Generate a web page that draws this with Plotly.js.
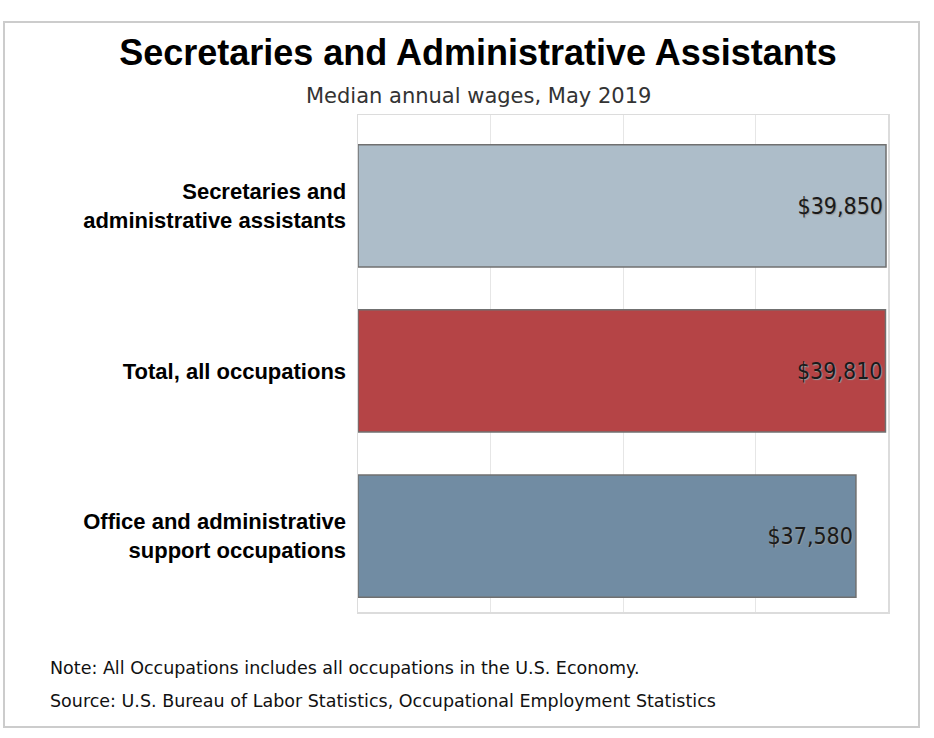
<!DOCTYPE html>
<html>
<head>
<meta charset="utf-8">
<script src="https://cdn.plot.ly/plotly-3.0.1.min.js"></script>
<style>html,body{margin:0;padding:0;background:#fff;}#chart{width:934px;height:738px;}</style>
</head>
<body>
<div id="chart"></div>
<script>
const categories = ["Office and administrative<br>support occupations", "Total, all occupations", "Secretaries and<br>administrative assistants"];
const wages = [37580, 39810, 39850];
const wageLabels = ["$37,580", "$39,810", "$39,850"];
const barColors = ["#718ca3", "#b54446", "#adbdc9"];
const titleText = "Secretaries and Administrative Assistants";
const subtitleText = "Median annual wages, May 2019";
const noteText = "Note: All Occupations includes all occupations in the U.S. Economy.";
const sourceText = "Source: U.S. Bureau of Labor Statistics, Occupational Employment Statistics";

const W = 934, H = 738;
const M = {l: 358, r: 46, t: 115, b: 126};
const pw = W - M.l - M.r, ph = H - M.t - M.b;
const px = x => (x - M.l) / pw;
const py = y => (H - M.b - y) / ph;

const trace = {
  type: "bar",
  orientation: "h",
  y: categories,
  x: wages,
  text: wageLabels,
  textposition: "inside",
  insidetextanchor: "end",
  textangle: 0,
  constraintext: "none",
  cliponaxis: false,
  textfont: {family: "DejaVu Sans Condensed, DejaVu Sans, sans-serif", size: 23, color: "#1a1a1a", shadow: "1px 1px 1px #999"},
  marker: {color: barColors, line: {color: "#707070", width: 1.5}},
  width: 0.74,
  hoverinfo: "none"
};

const layout = {
  width: W, height: H,
  margin: M,
  paper_bgcolor: "#fff", plot_bgcolor: "#fff",
  showlegend: false,
  title: {text: "<b>" + titleText + "</b>", font: {family: "Liberation Sans, Arial, sans-serif", size: 36, color: "#000"},
          xref: "container", x: 478/W, xanchor: "center", yref: "container", y: 1 - 52/H, yanchor: "middle"},
  xaxis: {range: [0, 40000], dtick: 10000, tick0: 0, showticklabels: false, ticks: "",
          showgrid: true, gridcolor: "#e6e6e6", gridwidth: 1, zeroline: false,
          showline: true, linecolor: "#dcdcdc", linewidth: 1.5, mirror: true, fixedrange: true},
  yaxis: {type: "category", range: [-0.46, 2.55], ticks: "", ticklabelstandoff: 6,
          tickfont: {family: "Liberation Sans, Arial, sans-serif", size: 22, color: "#000", weight: "bold"},
          showgrid: false, zeroline: false, showline: true, linecolor: "#dcdcdc", linewidth: 1.5, mirror: true, fixedrange: true},
  annotations: [
    {text: subtitleText, xref: "paper", yref: "paper", x: px(478.5), y: py(96), xanchor: "center", yanchor: "middle",
     showarrow: false, font: {family: "DejaVu Sans, sans-serif", size: 21, color: "#333"}},
    {text: noteText, xref: "paper", yref: "paper", x: px(48), y: py(668), xanchor: "left", yanchor: "middle",
     showarrow: false, font: {family: "DejaVu Sans, sans-serif", size: 17.5, color: "#111"}},
    {text: sourceText, xref: "paper", yref: "paper", x: px(48), y: py(701), xanchor: "left", yanchor: "middle",
     showarrow: false, font: {family: "DejaVu Sans, sans-serif", size: 17.5, color: "#111"}}
  ],
  shapes: [
    {type: "rect", xref: "paper", yref: "paper", x0: px(4), x1: px(919), y0: py(22), y1: py(727),
     line: {color: "#cccccc", width: 2}, fillcolor: "rgba(0,0,0,0)", layer: "below"}
  ]
};

Plotly.newPlot("chart", [trace], layout, {displayModeBar: false, staticPlot: true});
</script>
</body>
</html>
